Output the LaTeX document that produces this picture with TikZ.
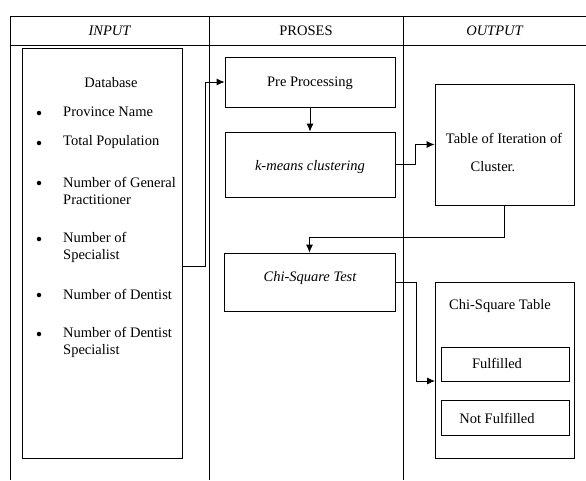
\documentclass[tikz,border=0pt]{standalone}
\usepackage{fontspec}
\setmainfont{Liberation Serif}
\usetikzlibrary{%
  arrows.meta,%
  positioning%
}

\begin{document}
\begin{tikzpicture}[x=1pt,y=-1pt,
    box/.style={draw,line width=0.8pt,inner sep=0},
    txt/.style={font=\fontsize{14.5}{17}\selectfont,inner sep=0},
    dot/.style={circle,fill,inner sep=0,minimum size=4.5pt},
    grid/.style={draw,line width=0.8pt},
    flow/.style={draw,line width=0.8pt,-{Latex[length=8pt,width=7pt]}}]
  \useasboundingbox (0,0) rectangle (586,480);

  % table frame
  \path [grid] (10,16) -- (586,16);
  \path [grid] (10,45) -- (586,45);
  \path [grid] (10,16) -- (10,480);
  \path [grid] (209,16) -- (209,480);
  \path [grid] (403,16) -- (403,480);

  \node[txt] (hin) at (109.5,31) {\itshape INPUT};
  \node[txt] (hpro) at (306,31) {PROSES};
  \node[txt] (hout) at (494.5,31) {\itshape OUTPUT};

  % input
  \node[box,minimum width=160pt,minimum height=410pt] (db) at (102,253) {};
  \node[txt] (dbt) at (111,83) {Database};
  \node[dot] (b1) at (39,113) {};
  \node[txt,anchor=west] (i1) at (63,112) {Province Name};
  \node[dot] (b2) at (39,143) {};
  \node[txt,anchor=west] (i2) at (63,142) {Total Population};
  \node[dot] (b3) at (39,183) {};
  \node[txt,anchor=west,align=left] (i3) at (63,190.5) {Number of General\\Practitioner};
  \node[dot] (b4) at (39,239) {};
  \node[txt,anchor=west,align=left] (i4) at (63,247) {Number of\\Specialist};
  \node[dot] (b5) at (39,295) {};
  \node[txt,anchor=west] (i5) at (63,294) {Number of Dentist};
  \node[dot] (b6) at (39,334) {};
  \node[txt,anchor=west,align=left] (i6) at (63,342.5) {Number of Dentist\\Specialist};

  % proses
  \node[box,minimum width=170pt,minimum height=50pt] (pre) at (310,82) {};
  \node[txt] (pret) at (310,83) {Pre Processing};
  \node[box,minimum width=170pt,minimum height=65pt] (km) at (310,164.5) {};
  \node[txt] (kmt) at (310,167) {\itshape k-means clustering};
  \node[box,minimum width=171pt,minimum height=58pt] (chi) at (309.5,282) {};
  \node[txt] (chit) at (310,278) {\itshape Chi-Square Test};

  % output
  \node[box,minimum width=139pt,minimum height=121pt] (tab) at (504.5,144.5) {};
  \node[txt] (taba) at (504,138) {Table of Iteration of};
  \node[txt] (tabb) at (493,167) {Cluster.};
  \node[box,minimum width=139pt,minimum height=176pt] (cs) at (504.5,370) {};
  \node[txt] (cst) at (500,306) {Chi-Square Table};
  \node[box,minimum width=128pt,minimum height=34pt] (ful) at (505,364) {};
  \node[txt] (fult) at (497,363) {Fulfilled};
  \node[box,minimum width=128pt,minimum height=35pt] (nful) at (505,417.5) {};
  \node[txt] (nfult) at (497,418) {Not Fulfilled};

  \coordinate (d1) at (205,266);
  \coordinate (k1) at (415,164.5);
  \coordinate (t1) at (504.5,237);
  \coordinate (c1) at (416,282);
  \coordinate (c2) at (435,381);

  \path [flow] (db.east |- d1) -- (d1) |- (pre.west);
  \path [flow] (pre.south) -- (km.north);
  \path [flow] (km.east) -- (k1) |- (tab.west);
  \path [flow] (tab.south) -- (t1) -| (chi.north);
  \path [flow] (chi.east) -- (c1) |- (c2);
\end{tikzpicture}
\end{document}
